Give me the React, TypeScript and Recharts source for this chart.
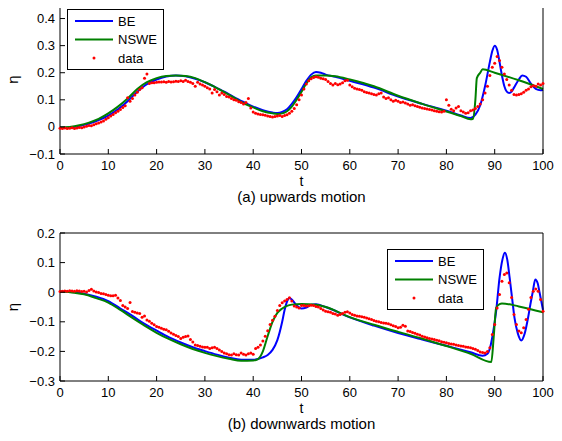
import { ComposedChart, Legend, Line, Scatter, XAxis, YAxis } from "recharts";

const BLUE = "#0000ff";
const GREEN = "#008000";
const RED = "#ff0000";
const FONT = '"Liberation Sans", Arial, sans-serif';

const tTicks = [0, 10, 20, 30, 40, 50, 60, 70, 80, 90, 100];
const upTicks = [-0.1, 0, 0.1, 0.2, 0.3, 0.4];
const downTicks = [-0.3, -0.2, -0.1, 0, 0.1, 0.2];

// (a) upwards motion
const upBeT = [0, 2, 4, 6, 8, 10, 12, 14, 16, 18, 20, 22, 24, 26, 28, 30, 32, 34, 36, 38, 40, 42, 44, 45, 46, 47, 48, 49, 50, 51, 52, 53, 54, 55, 57, 60, 65, 70, 75, 80, 83, 85, 86, 87, 88, 89, 89.5, 90, 90.5, 91, 91.5, 92, 92.5, 93, 93.5, 94, 95, 95.7, 96.5, 97.5, 98.5, 99.5, 100];
const upBeV = [-0.003, -0.002, 0.003, 0.012, 0.025, 0.042, 0.065, 0.095, 0.13, 0.158, 0.175, 0.186, 0.19, 0.187, 0.178, 0.165, 0.148, 0.13, 0.11, 0.092, 0.075, 0.062, 0.053, 0.051, 0.055, 0.065, 0.085, 0.11, 0.14, 0.17, 0.193, 0.203, 0.2, 0.193, 0.185, 0.17, 0.145, 0.112, 0.085, 0.06, 0.042, 0.033, 0.045, 0.08, 0.15, 0.24, 0.28, 0.3, 0.285, 0.24, 0.19, 0.15, 0.13, 0.125, 0.13, 0.145, 0.175, 0.19, 0.185, 0.16, 0.14, 0.135, 0.137];

const upNsweT = [0, 2, 4, 6, 8, 10, 12, 14, 16, 18, 20, 22, 24, 26, 28, 30, 32, 34, 36, 38, 40, 42, 44, 45, 46, 47, 48, 49, 50, 51, 52, 53, 55, 57, 60, 65, 70, 75, 80, 83, 85, 85.5, 86, 86.3, 87, 87.5, 90, 95, 100];
const upNsweV = [-0.002, 0, 0.006, 0.016, 0.03, 0.05, 0.075, 0.105, 0.14, 0.165, 0.18, 0.188, 0.19, 0.188, 0.18, 0.165, 0.148, 0.128, 0.108, 0.088, 0.072, 0.058, 0.05, 0.048, 0.05, 0.058, 0.075, 0.1, 0.13, 0.16, 0.183, 0.19, 0.19, 0.187, 0.175, 0.15, 0.115, 0.085, 0.057, 0.04, 0.028, 0.03, 0.1, 0.18, 0.2, 0.213, 0.2, 0.172, 0.14];

// measured every 0.5 from t = 0 to 100
const upDataV = [
  -0.005, -0.006, -0.004, -0.006, -0.005, -0.003, -0.006, -0.004, -0.002, -0.003,
  0.0, 0.002, 0.005, 0.004, 0.008, 0.012, 0.014, 0.018, 0.022, 0.028,
  0.034, 0.04, 0.046, 0.052, 0.058, 0.064, 0.072, 0.078, 0.108, 0.095,
  0.105, 0.118, 0.128, 0.138, 0.145, 0.18, 0.195, 0.16, 0.163, 0.163,
  0.165, 0.166, 0.166, 0.167, 0.165, 0.168, 0.166, 0.167, 0.169, 0.168,
  0.17, 0.168, 0.172, 0.168, 0.165, 0.16, 0.15, 0.165, 0.158, 0.155,
  0.15, 0.145, 0.14, 0.125, 0.138, 0.13, 0.118, 0.125, 0.12, 0.112,
  0.11, 0.105, 0.1, 0.098, 0.093, 0.09, 0.085, 0.09, 0.105, 0.07,
  0.055, 0.05, 0.048, 0.046, 0.045, 0.043, 0.04, 0.038, 0.037, 0.038,
  0.04, 0.042, 0.038, 0.042, 0.045, 0.05, 0.058, 0.068, 0.082, 0.1,
  0.118, 0.14, 0.158, 0.17, 0.178, 0.182, 0.185, 0.183, 0.18, 0.178,
  0.175, 0.168, 0.16, 0.155, 0.16, 0.156, 0.158, 0.163, 0.17, 0.172,
  0.155, 0.148, 0.143, 0.14, 0.138, 0.135, 0.13, 0.127, 0.125, 0.122,
  0.12, 0.118, 0.122, 0.125, 0.11, 0.105, 0.108, 0.1, 0.095, 0.098,
  0.095, 0.09, 0.092, 0.088, 0.085, 0.08, 0.082, 0.078, 0.075, 0.073,
  0.07, 0.068, 0.066, 0.064, 0.062, 0.06, 0.058, 0.056, 0.055, 0.058,
  0.1, 0.08, 0.065, 0.06, 0.07, 0.075, 0.06, 0.055, 0.05, 0.052,
  0.06, 0.062, 0.068, 0.075, 0.085, 0.1, 0.125, 0.15, 0.19, 0.22,
  0.235, 0.26, 0.245, 0.22, 0.195, 0.175, 0.155, 0.135, 0.12, 0.118,
  0.12, 0.122, 0.128, 0.135, 0.14, 0.148, 0.152, 0.15, 0.158, 0.155,
  0.16,
];

// (b) downwards motion
const downBeT = [0, 3, 5, 7.5, 10, 12.5, 15, 17.5, 20, 22.5, 25, 27.5, 30, 32.5, 35, 37.5, 40, 42, 43, 44, 45, 46, 46.5, 47, 47.5, 48, 49, 50, 51, 52, 53, 55, 60, 65, 70, 75, 80, 85, 87.5, 88.5, 89, 89.6, 90.3, 91, 91.6, 92.1, 92.6, 93.1, 93.6, 94.1, 94.8, 95.5, 96.2, 96.9, 97.4, 97.9, 98.4, 98.9, 99.3, 99.7, 100];
const downBeV = [0.002, 0, -0.005, -0.015, -0.03, -0.055, -0.08, -0.107, -0.13, -0.152, -0.17, -0.186, -0.199, -0.211, -0.221, -0.228, -0.228, -0.22, -0.212, -0.195, -0.162, -0.1, -0.06, -0.032, -0.02, -0.025, -0.045, -0.055, -0.052, -0.042, -0.041, -0.05, -0.085, -0.113, -0.138, -0.16, -0.181, -0.203, -0.215, -0.208, -0.19, -0.143, -0.064, 0.048, 0.11, 0.133, 0.11, 0.048, -0.02, -0.087, -0.14, -0.163, -0.14, -0.087, -0.04, 0.003, 0.043, 0.03, -0.002, -0.035, -0.06];

const downNsweT = [0, 3, 5, 7.5, 10, 12.5, 15, 17.5, 20, 22.5, 25, 27.5, 30, 32.5, 35, 37.5, 40, 41, 42, 43, 44, 45, 46, 47, 48, 50, 53, 55, 60, 65, 70, 75, 80, 85, 89.3, 89.8, 90.3, 91, 91.5, 95, 100];
const downNsweV = [0.002, -0.002, -0.007, -0.02, -0.035, -0.06, -0.087, -0.113, -0.137, -0.158, -0.176, -0.192, -0.205, -0.216, -0.225, -0.232, -0.231, -0.226, -0.2, -0.148, -0.1, -0.07, -0.055, -0.046, -0.042, -0.04, -0.042, -0.05, -0.084, -0.11, -0.134, -0.157, -0.182, -0.208, -0.236, -0.15, -0.053, -0.04, -0.038, -0.048, -0.068];

const downDataV = [
  0.002, 0.003, 0.004, 0.003, 0.005, 0.004, 0.003, 0.005, 0.004, 0.002,
  0.003, 0.001, 0.006, 0.01, 0.004, 0.001, -0.001, -0.004, -0.005, -0.008,
  -0.01, -0.012, -0.012, -0.01, -0.02, -0.028, -0.045, -0.05, -0.055, -0.035,
  -0.065, -0.068, -0.07, -0.072, -0.085, -0.08, -0.094, -0.098, -0.105, -0.11,
  -0.116, -0.118, -0.122, -0.125, -0.127, -0.132, -0.138, -0.142, -0.146, -0.15,
  -0.156, -0.152, -0.15, -0.148, -0.16, -0.168, -0.178, -0.18, -0.183, -0.185,
  -0.186, -0.186, -0.19, -0.188, -0.186, -0.19, -0.195, -0.2, -0.205, -0.208,
  -0.211, -0.212, -0.208, -0.211, -0.212, -0.205, -0.21, -0.212, -0.208, -0.205,
  -0.21, -0.19, -0.186, -0.178, -0.165, -0.149, -0.13, -0.109, -0.095, -0.081,
  -0.062, -0.045, -0.036, -0.03, -0.025, -0.019, -0.03, -0.047, -0.05, -0.053,
  -0.045, -0.045, -0.047, -0.046, -0.044, -0.045, -0.048, -0.05, -0.055, -0.06,
  -0.064, -0.066, -0.068, -0.072, -0.074, -0.078, -0.075, -0.072, -0.068, -0.066,
  -0.07, -0.075, -0.078, -0.08, -0.081, -0.083, -0.085, -0.087, -0.09, -0.092,
  -0.096, -0.098, -0.1, -0.102, -0.104, -0.105, -0.107, -0.11, -0.113, -0.116,
  -0.12, -0.118, -0.112, -0.115, -0.131, -0.133, -0.136, -0.139, -0.142, -0.145,
  -0.149, -0.151, -0.154, -0.156, -0.158, -0.16, -0.162, -0.164, -0.167, -0.169,
  -0.171, -0.173, -0.175, -0.176, -0.178, -0.18, -0.182, -0.183, -0.185, -0.186,
  -0.188, -0.19, -0.193, -0.197, -0.202, -0.204, -0.205, -0.2, -0.188, -0.143,
  -0.109, -0.053, -0.008, 0.037, 0.06, 0.065, 0.032, -0.018, -0.075, -0.109,
  -0.131, -0.137, -0.12, -0.092, -0.058, -0.018, 0.003, 0.011, 0.003, -0.025,
  -0.064,
];

const legendRows = [
  { name: "BE", color: BLUE, kind: "line" },
  { name: "NSWE", color: GREEN, kind: "line" },
  { name: "data", color: RED, kind: "dot" },
];

const toPoints = (ts: number[], vs: number[]) => ts.map((t, i) => ({ t, v: vs[i] }));
const sampled = (vs: number[]) => vs.map((v, i) => ({ t: i * 0.5, v }));

const fmt = (v: number) => (v < 0 ? "\u2212" + Math.abs(v) : String(v));

const BottomTick = (p: any) => (
  <g>
    <line x1={p.x} x2={p.x} y1={p.y} y2={p.y - 5} stroke="#000" />
    <text x={p.x} y={p.y + 16} textAnchor="middle" fontSize={13} fontFamily={FONT} fill="#000">
      {p.payload.value}
    </text>
  </g>
);
const TopTick = (p: any) => <line x1={p.x} x2={p.x} y1={p.y} y2={p.y + 5} stroke="#000" />;
const LeftTick = (p: any) => (
  <g>
    <line x1={p.x} x2={p.x + 5} y1={p.y} y2={p.y} stroke="#000" />
    <text x={p.x - 5} y={p.y + 4.5} textAnchor="end" fontSize={13} fontFamily={FONT} fill="#000">
      {fmt(p.payload.value)}
    </text>
  </g>
);
const RightTick = (p: any) => <line x1={p.x} x2={p.x - 5} y1={p.y} y2={p.y} stroke="#000" />;

function LegendBox() {
  return (
    <svg width={97} height={61} style={{ display: "block" }}>
      <rect x={0.5} y={0.5} width={96} height={60} fill="#fff" stroke="#000" />
      {legendRows.map((r, i) => {
        const y = 12 + i * 18.5;
        return (
          <g key={r.name}>
            {r.kind === "line" ? (
              <line x1={8} x2={46} y1={y} y2={y} stroke={r.color} strokeWidth={2} />
            ) : (
              <circle cx={27} cy={y} r={1.5} fill={r.color} />
            )}
            <text x={51} y={y + 4.5} fontSize={13} fontFamily={FONT} fill="#000">
              {r.name}
            </text>
          </g>
        );
      })}
    </svg>
  );
}

type PanelProps = {
  height: number;
  topPad: number;
  bottomPad: number;
  yDomain: [number, number];
  yTicks: number[];
  be: { t: number; v: number }[];
  nswe: { t: number; v: number }[];
  data: { t: number; v: number }[];
  caption: string;
  legendAt: { left: number; top: number };
};

function Panel({ height, topPad, bottomPad, yDomain, yTicks, be, nswe, data, caption, legendAt }: PanelProps) {
  return (
    <ComposedChart width={562} height={height} margin={{ top: 0, right: 0, bottom: 0, left: 0 }}>
      <XAxis
        dataKey="t"
        type="number"
        domain={[0, 100]}
        ticks={tTicks}
        interval={0}
        height={bottomPad}
        tickSize={0}
        tickMargin={0}
        tickLine={false}
        axisLine={{ stroke: "#000" }}
        tick={BottomTick}
        label={(lp: any) => {
          const vb = lp.viewBox;
          const cx = vb.x + vb.width / 2;
          return (
            <g fontFamily={FONT} fill="#000">
              <text x={cx} y={vb.y + 31.5} textAnchor="middle" fontSize={14}>t</text>
              <text x={cx} y={vb.y + 48} textAnchor="middle" fontSize={15}>{caption}</text>
            </g>
          );
        }}
      />
      <XAxis
        xAxisId="top"
        orientation="top"
        type="number"
        domain={[0, 100]}
        ticks={tTicks}
        interval={0}
        height={topPad}
        tickSize={0}
        tickMargin={0}
        tickLine={false}
        axisLine={{ stroke: "#000" }}
        tick={TopTick}
      />
      <YAxis
        type="number"
        domain={yDomain}
        ticks={yTicks}
        interval={0}
        width={60}
        tickSize={0}
        tickMargin={0}
        tickLine={false}
        axisLine={{ stroke: "#000" }}
        tick={LeftTick}
        allowDataOverflow
        label={(lp: any) => {
          const vb = lp.viewBox;
          const cy = vb.y + vb.height / 2;
          return (
            <text x={18} y={cy} transform={`rotate(-90 18 ${cy})`} textAnchor="middle" fontFamily={FONT} fontSize={15} fill="#000">
              η
            </text>
          );
        }}
      />
      <YAxis
        yAxisId="right"
        orientation="right"
        type="number"
        domain={yDomain}
        ticks={yTicks}
        interval={0}
        width={19}
        tickSize={0}
        tickMargin={0}
        tickLine={false}
        axisLine={{ stroke: "#000" }}
        tick={RightTick}
      />
      <Legend
        layout="vertical"
        align="center"
        verticalAlign="middle"
        content={() => <LegendBox />}
        wrapperStyle={{ left: legendAt.left, top: legendAt.top, width: 97, height: 61 }}
      />
      <Line data={be} dataKey="v" name="BE" type="monotone" stroke={BLUE} strokeWidth={2} dot={false} isAnimationActive={false} />
      <Line data={nswe} dataKey="v" name="NSWE" type="monotone" stroke={GREEN} strokeWidth={2} dot={false} isAnimationActive={false} />
      <Scatter
        data={data}
        dataKey="v"
        name="data"
        fill={RED}
        isAnimationActive={false}
        shape={(sp: any) => <circle cx={sp.cx} cy={sp.cy} r={1.5} fill={RED} />}
      />
    </ComposedChart>
  );
}

export default function App() {
  return (
    <div style={{ position: "relative", width: 562, height: 441, margin: -8, background: "#fff", fontFamily: FONT }}>
      <Panel
        height={210}
        topPad={5}
        bottomPad={56}
        yDomain={[-0.1, 0.45]}
        yTicks={upTicks}
        be={toPoints(upBeT, upBeV)}
        nswe={toPoints(upNsweT, upNsweV)}
        data={sampled(upDataV)}
        caption="(a) upwards motion"
        legendAt={{ left: 67, top: 9 }}
      />
      <Panel
        height={231}
        topPad={23}
        bottomPad={60}
        yDomain={[-0.3, 0.2]}
        yTicks={downTicks}
        be={toPoints(downBeT, downBeV)}
        nswe={toPoints(downNsweT, downNsweV)}
        data={sampled(downDataV)}
        caption="(b) downwards motion"
        legendAt={{ left: 387, top: 39 }}
      />
    </div>
  );
}
